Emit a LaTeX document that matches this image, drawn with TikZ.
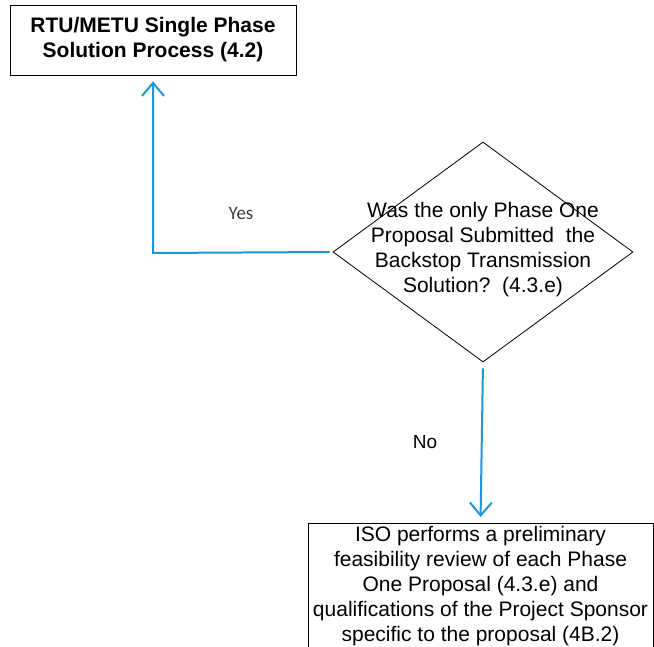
\documentclass[tikz,border=0pt]{standalone}
\usepackage{fontspec}
\setmainfont{Liberation Sans}
\newfontfamily\calibrifont{Carlito}
\usetikzlibrary{shapes.geometric,arrows.meta}
\definecolor{flowblue}{RGB}{30,150,215}
\definecolor{labelgray}{RGB}{64,64,64}
\begin{document}
\begin{tikzpicture}[x=1pt,y=-1pt,
  framebox/.style={draw=black, line width=0.8pt, inner sep=0pt},
  txt/.style={font=\fontsize{21}{25}\selectfont, align=center, inner sep=0pt},
  flow/.style={draw=flowblue, line width=2pt, -{Straight Barb[length=13pt,width=22pt]}},
  lbl/.style={font=\fontsize{19}{22}\selectfont, inner sep=0pt}]
\useasboundingbox (0,0) rectangle (654,647);
\clip (0,0) rectangle (654,647);
\fill[white] (0,0) rectangle (654,647);
% top box
\node[framebox, minimum width=286pt, minimum height=70pt] (top) at (153,40) {};
\node[txt, font=\fontsize{21}{25}\selectfont\bfseries] (toptext) at (153,40) {RTU/METU Single Phase\\Solution Process (4.2)};
% decision
\node[draw=black, line width=0.8pt, diamond, minimum width=300pt, minimum height=220pt, inner sep=0pt] (dec) at (483,252) {};
\node[txt] (q) at (483,250) {Was the only Phase One\\Proposal Submitted\ \ the\\Backstop Transmission\\Solution?\ \ (4.3.e)};
% bottom box
\node[framebox, minimum width=345pt, minimum height=170pt, anchor=north] (act) at (480.5,523) {};
\node[txt, anchor=north] (acttext) at (480.5,526) {ISO performs a preliminary\\feasibility review of each Phase\\One Proposal (4.3.e) and\\qualifications of the Project Sponsor\\specific to the proposal (4B.2)};
% connectors
\coordinate (corner) at (153,253);
\draw[flow, shorten <=3pt, shorten >=6pt] (dec.west) -- (corner) -- (top.south);
\draw[flow, shorten <=6pt, shorten >=6pt] (dec.south) -- (act.north);
% labels
\node[lbl, font=\fontsize{19}{22}\selectfont\calibrifont, text=labelgray] (yes) at (241,213) {Yes};
\node[lbl] (no) at (425,442) {No};
\end{tikzpicture}
\end{document}
